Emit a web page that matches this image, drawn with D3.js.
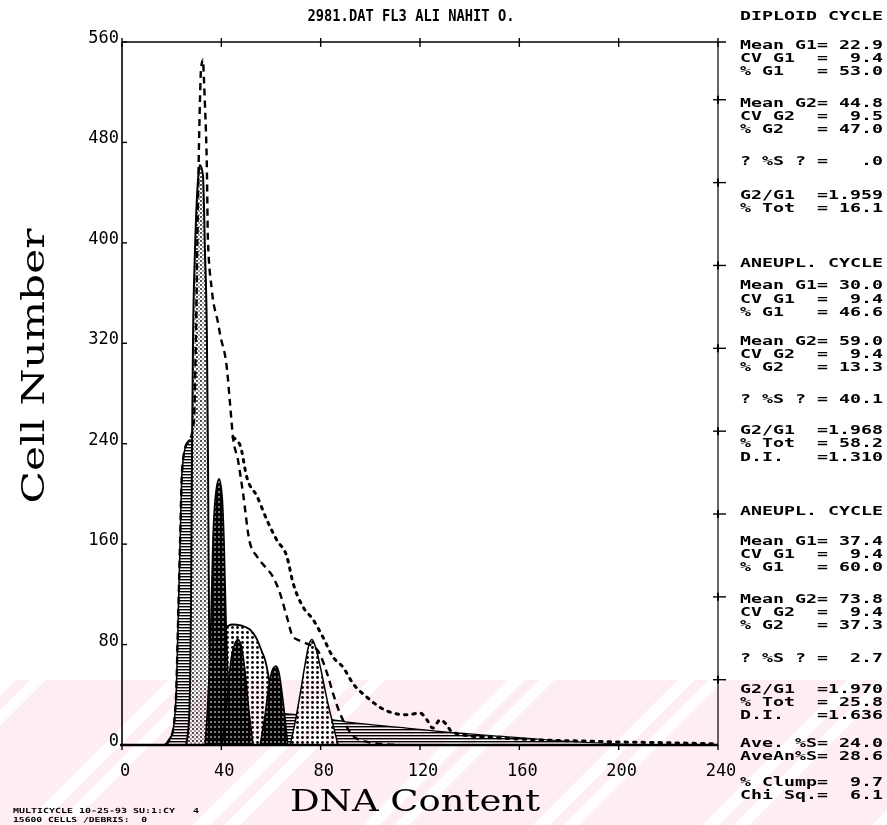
<!DOCTYPE html>
<html><head><meta charset="utf-8">
<script src="https://cdn.jsdelivr.net/npm/d3@7"></script>
<style>body{margin:0;background:#fff} svg{display:block} text{white-space:pre}</style>
</head><body><svg id="c" width="887" height="825"></svg>
<script>
// ---------- data ----------
const xTicks = [0, 40, 80, 120, 160, 200, 240];
const yTicks = [0, 80, 160, 240, 320, 400, 480, 560];
const rightTicks = [52, 118, 184, 250, 316, 382, 448, 514];
const title = "2981.DAT FL3 ALI NAHIT O.";
const xTitle = "DNA Content";
const yTitle = "Cell Number";

// fitted model (dashed)
const fitLine = [[17.3,0],[20.1,8],[21.7,36],[22.6,100],[23.4,163],[24.2,219],[25.8,239],[27.4,243],[29.0,259],[29.8,331],[30.6,434],[31.4,514],[31.8,538],[32.6,546],[33.0,530],[33.4,510],[34.2,457],[34.6,402],[36.2,362],[38.7,336],[39.5,327],[42.3,299],[43.5,272],[44.7,245],[46.7,227],[48.7,201],[51.5,161],[54.4,150],[57.6,142],[60.8,134],[63.6,121],[66.4,102],[68.9,86],[72.9,82],[78.5,76],[82.6,57],[85.0,41],[87.8,25],[90.6,14],[93.8,6],[99.9,2],[111.9,0]];
// raw histogram (dotted)
const rawLine = [[44.7,245],[47.5,239],[50.3,213],[54.4,198],[58.4,179],[62.4,163],[66.4,150],[68.9,129],[72.9,110],[76.9,100],[80.9,86],[85.0,70],[89.0,62],[93.0,49],[98.7,38],[103.9,30],[109.1,25.5],[114.8,24],[120.0,25.5],[122.8,20],[125.2,13.5],[128.1,20],[130.5,16.7],[132.9,10.4],[140.1,7.2],[152.2,5.6],[168.3,4],[184.4,3.2],[200.5,2.4],[224.7,1.6],[240,0.8]];
// component fits
const debris   = [[17.3,0],[23.4,16],[31.4,24],[51.5,26],[71.7,24],[91.8,18],[111.9,14],[132.1,10],[152.2,7],[172.3,4],[192.5,1.6],[212.6,0]];
const dipG1    = [[17.3,0],[20.1,8],[21.7,36],[22.6,100],[23.4,163],[24.2,219],[25.8,239],[27.4,243],[29.0,240],[30.6,200],[31.4,100],[32.2,0]];
const sPhase   = [[31.4,0],[33.4,36],[35.4,64],[37.4,80],[40.3,90],[44.3,96],[48.3,95],[51.5,92],[54.4,84],[56.4,74],[57.6,68],[58.8,57],[60.0,40],[61.2,20],[62.4,0]];
const tallPeak = [[25.8,0],[27.0,20],[27.8,115],[28.2,235],[28.6,323],[29.4,394],[30.6,450],[31.4,462],[32.6,454],[33.4,394],[34.2,323],[34.6,235],[35.0,115],[35.8,20],[37.0,0]];
const an1G1    = [[33.4,0],[34.6,36],[35.8,100],[36.6,163],[37.9,203],[39.1,212],[40.3,199],[41.1,163],[41.9,100],[43.1,36],[44.3,0]];
const an2G1    = [[40.3,0],[42.3,36],[43.9,68],[45.5,81],[46.7,84],[47.9,80],[49.5,60],[51.1,28],[52.8,0]];
const an1G2    = [[55.6,0],[57.6,24],[59.2,48],[60.8,61],[62.0,63],[63.2,58],[64.8,36],[66.8,0]];
const an2G2    = [[67.7,0],[69.7,18],[71.7,40],[73.7,64],[75.3,80],[76.5,84],[78.1,77],[80.1,60],[82.6,36],[85.0,16],[87.0,0]];

const panel = [
 ["DIPLOID CYCLE",15],
 ["Mean G1= 22.9",44],["CV G1  =  9.4",57],["% G1   = 53.0",70],
 ["Mean G2= 44.8",102],["CV G2  =  9.5",115],["% G2   = 47.0",128],
 ["? %S ? =   .0",160],
 ["G2/G1  =1.959",194],["% Tot  = 16.1",207],
 ["ANEUPL. CYCLE",262],
 ["Mean G1= 30.0",284],["CV G1  =  9.4",298],["% G1   = 46.6",311],
 ["Mean G2= 59.0",340],["CV G2  =  9.4",353],["% G2   = 13.3",366],
 ["? %S ? = 40.1",398],
 ["G2/G1  =1.968",429],["% Tot  = 58.2",442],["D.I.   =1.310",456],
 ["ANEUPL. CYCLE",510],
 ["Mean G1= 37.4",540],["CV G1  =  9.4",553],["% G1   = 60.0",566],
 ["Mean G2= 73.8",598],["CV G2  =  9.4",611],["% G2   = 37.3",624],
 ["? %S ? =  2.7",657],
 ["G2/G1  =1.970",688],["% Tot  = 25.8",701],["D.I.   =1.636",714],
 ["Ave. %S= 24.0",742],["AveAn%S= 28.6",755],
 ["% Clump=  9.7",781],["Chi Sq.=  6.1",794]
];
const footer = ["MULTICYCLE 10-25-93 SU:1:CY   4","15600 CELLS /DEBRIS:  0"];

// ---------- layout ----------
const L=122, R=718, T=42, B=745;
const x = d3.scaleLinear().domain([0,240]).range([L,R]);
const y = d3.scaleLinear().domain([0,560]).range([B,T]);
const svg = d3.select("#c");
svg.append("rect").attr("width",887).attr("height",825).attr("fill","#fff");

const defs = svg.append("defs");
let p = defs.append("pattern").attr("id","hh").attr("patternUnits","userSpaceOnUse").attr("width",4).attr("height",3);
p.append("rect").attr("width",4).attr("height",3).attr("fill","#fff");
p.append("rect").attr("y",0).attr("width",4).attr("height",1.4).attr("fill","#000");
p = defs.append("pattern").attr("id","st").attr("patternUnits","userSpaceOnUse").attr("width",4).attr("height",4);
p.append("rect").attr("width",4).attr("height",4).attr("fill","#fff");
p.append("circle").attr("cx",1).attr("cy",1).attr("r",0.9).attr("fill","#000");
p.append("circle").attr("cx",3).attr("cy",3).attr("r",0.7).attr("fill","#000");
p = defs.append("pattern").attr("id","sb").attr("patternUnits","userSpaceOnUse").attr("width",5).attr("height",5);
p.append("rect").attr("width",5).attr("height",5).attr("fill","#fff");
p.append("circle").attr("cx",2.5).attr("cy",2.5).attr("r",1.4).attr("fill","#000");
p = defs.append("pattern").attr("id","dk").attr("patternUnits","userSpaceOnUse").attr("width",4).attr("height",5);
p.append("rect").attr("width",4).attr("height",5).attr("fill","#000");
p.append("rect").attr("x",2.5).attr("y",1).attr("width",1).attr("height",2).attr("fill","#fff");
// watermark stripes (scan artefact)
p = defs.append("pattern").attr("id","wm").attr("patternUnits","userSpaceOnUse").attr("width",120).attr("height",10).attr("patternTransform","rotate(45)");
p.append("rect").attr("width",120).attr("height",10).attr("fill","#feedf1");
p.append("rect").attr("x",0).attr("width",12).attr("height",10).attr("fill","#fff");
p.append("rect").attr("x",22).attr("width",11).attr("height",10).attr("fill","#fff");

const area = d3.area().x(d=>x(d[0])).y0(y(0)).y1(d=>y(d[1])).curve(d3.curveMonotoneX);
const line = d3.line().x(d=>x(d[0])).y(d=>y(d[1])).curve(d3.curveMonotoneX);

const plot = svg.append("g");
function comp(data, fill, sw){
  plot.append("path").attr("d",area(data)).attr("fill",fill).attr("stroke","#000").attr("stroke-width",sw);
}
comp(debris,"url(#hh)",1.2);
comp(dipG1,"url(#hh)",1.5);
comp(sPhase,"url(#sb)",1.8);
comp(tallPeak,"url(#st)",2);
comp(an1G1,"url(#dk)",1.5);
comp(an2G1,"url(#dk)",1.5);
comp(an1G2,"url(#dk)",1.5);
comp(an2G2,"url(#sb)",1.5);

plot.append("path").attr("d",line(fitLine)).attr("fill","none").attr("stroke","#000")
  .attr("stroke-width",2.4).attr("stroke-dasharray","7,5");
plot.append("path").attr("d",line(rawLine)).attr("fill","none").attr("stroke","#000")
  .attr("stroke-width",3).attr("stroke-dasharray","2.5,6").attr("stroke-linecap","round");

// ---------- axes ----------
const ax = svg.append("g").attr("stroke","#000").attr("fill","none");
ax.append("line").attr("x1",L).attr("x2",L).attr("y1",T).attr("y2",B).attr("stroke-width",1.6);
ax.append("line").attr("x1",L-2).attr("x2",R).attr("y1",B).attr("y2",B).attr("stroke-width",2.4);
ax.append("line").attr("x1",L).attr("x2",R+8).attr("y1",T).attr("y2",T).attr("stroke-width",1.4);
ax.append("line").attr("x1",R).attr("x2",R).attr("y1",T).attr("y2",B).attr("stroke-width",1.2);
xTicks.forEach(v=>{
  ax.append("line").attr("x1",x(v)).attr("x2",x(v)).attr("y1",T-4).attr("y2",T+5).attr("stroke-width",1.4);
  ax.append("line").attr("x1",x(v)).attr("x2",x(v)).attr("y1",B).attr("y2",B+5).attr("stroke-width",1.4);
});
yTicks.forEach(v=>{
  ax.append("line").attr("x1",L).attr("x2",L+5).attr("y1",y(v)).attr("y2",y(v)).attr("stroke-width",1.4);
});
rightTicks.forEach(v=>{
  ax.append("line").attr("x1",R-5).attr("x2",R+8).attr("y1",y(v)).attr("y2",y(v)).attr("stroke-width",1.4);
  ax.append("line").attr("x1",R).attr("x2",R).attr("y1",y(v)-4).attr("y2",y(v)+4).attr("stroke-width",2);
});

const mono = "'DejaVu Sans Mono', monospace";
const tl = svg.append("g").attr("font-family",mono).attr("font-size",17).attr("fill","#000");
yTicks.forEach(v=>{
  tl.append("text").attr("x",119).attr("y",y(v)+1).attr("text-anchor","end").text(String(v));
});
xTicks.forEach(v=>{
  tl.append("text").attr("x",x(v)+3).attr("y",776).attr("text-anchor","middle").text(String(v));
});

svg.append("text").attr("x",411).attr("y",21).attr("text-anchor","middle")
  .attr("font-family",mono).attr("font-weight","bold").attr("font-size",15)
  .attr("textLength",207).attr("lengthAdjust","spacingAndGlyphs").text(title);

const serif = "'DejaVu Serif', 'Liberation Serif', serif";
svg.append("text").attr("x",415).attr("y",811).attr("text-anchor","middle")
  .attr("font-family",serif).attr("font-size",30).attr("textLength",250).attr("lengthAdjust","spacingAndGlyphs").text(xTitle);
svg.append("text").attr("transform","translate(44,366) rotate(-90)").attr("text-anchor","middle")
  .attr("font-family",serif).attr("font-size",32).attr("textLength",275).attr("lengthAdjust","spacingAndGlyphs").text(yTitle);

const pg = svg.append("g").attr("font-family",mono).attr("font-weight","bold").attr("font-size",11.5).attr("fill","#000");
panel.forEach(([t,cy])=>{
  pg.append("text").attr("x",740).attr("y",cy+4.5).attr("textLength",t.length*11).attr("lengthAdjust","spacingAndGlyphs").text(t);
});

const fg = svg.append("g").attr("font-family",mono).attr("font-weight","bold").attr("font-size",7).attr("fill","#000");
fg.append("text").attr("x",13).attr("y",813).attr("textLength",186).attr("lengthAdjust","spacingAndGlyphs").text(footer[0]);
fg.append("text").attr("x",13).attr("y",822).attr("textLength",134).attr("lengthAdjust","spacingAndGlyphs").text(footer[1]);

svg.append("rect").attr("x",0).attr("y",680).attr("width",887).attr("height",145)
  .attr("fill","url(#wm)").style("mix-blend-mode","multiply");
</script></body></html>
